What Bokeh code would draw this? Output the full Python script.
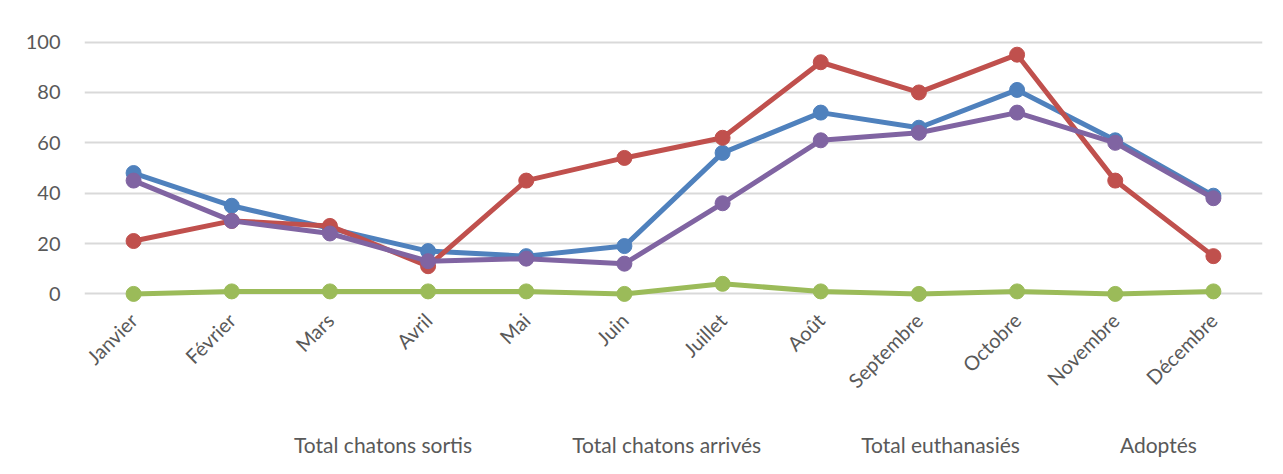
import math
from bokeh.plotting import figure
from bokeh.layouts import column
from bokeh.models import Range1d, Legend, LegendItem, FixedTicker
from bokeh.embed import file_html
from bokeh.resources import INLINE

months = ["Janvier", "Février", "Mars", "Avril", "Mai", "Juin", "Juillet",
          "Août", "Septembre", "Octobre", "Novembre", "Décembre"]
sortis = [48, 35, 26, 17, 15, 19, 56, 72, 66, 81, 61, 39]
arrives = [21, 29, 27, 11, 45, 54, 62, 92, 80, 95, 45, 15]
euthanasies = [0, 1, 1, 1, 1, 0, 4, 1, 0, 1, 0, 1]
adoptes = [45, 29, 24, 13, 14, 12, 36, 61, 64, 72, 60, 38]
y_ticks = [0, 20, 40, 60, 80, 100]

series = [
    ("Total chatons sortis", sortis, "#4F81BD"),
    ("Total chatons arrivés", arrives, "#C0504D"),
    ("Total euthanasiés", euthanasies, "#9BBB59"),
    ("Adoptés", adoptes, "#8064A2"),
]

FONT = "Lato"
TXT = "#595959"

p = figure(x_range=months, y_range=Range1d(-5, 105),
           width=1267, height=416,
           min_border_left=84, min_border_top=29, min_border_right=5,
           min_border_bottom=110,
           output_backend="svg", toolbar_location=None)

p.outline_line_color = None
p.xgrid.grid_line_color = None
p.ygrid.grid_line_color = "#D9D9D9"
p.ygrid.grid_line_width = 1.8
p.yaxis.ticker = FixedTicker(ticks=y_ticks)

for ax in (p.xaxis, p.yaxis):
    ax.axis_line_color = None
    ax.major_tick_line_color = None
    ax.minor_tick_line_color = None
    ax.major_tick_out = 0
    ax.major_tick_in = 0
    ax.major_label_text_font = FONT
    ax.major_label_text_color = TXT
    ax.major_label_text_font_size = "20px"
p.xaxis.major_label_orientation = math.pi / 4
p.xaxis.major_label_standoff = 10
p.yaxis.major_label_standoff = 24

for name, vals, color in series:
    p.line(months, vals, line_color=color, line_width=5)
    p.scatter(months, vals, size=15, fill_color=color, line_color=color)

# separate strip holding the legend
lg = figure(width=1267, height=56, x_range=Range1d(0, 1), y_range=Range1d(0, 1),
            min_border=0, x_axis_location=None, y_axis_location=None,
            output_backend="svg", toolbar_location=None)
lg.outline_line_color = None
lg.xgrid.visible = False
lg.ygrid.visible = False

items = []
for name, vals, color in series:
    r1 = lg.line(x=[], y=[], line_color=color, line_width=5)
    r2 = lg.scatter(x=[], y=[], size=15, fill_color=color, line_color=color)
    items.append(LegendItem(label=name, renderers=[r1, r2]))

legend = Legend(items=items, orientation="horizontal", location=(150, 9),
                glyph_width=57, glyph_height=38, label_standoff=3, spacing=40,
                padding=0, margin=0,
                border_line_color=None, background_fill_alpha=0,
                label_text_font=FONT, label_text_color=TXT,
                label_text_font_size="21px")
lg.add_layout(legend, "center")

layout = column(p, lg, spacing=0)
open("out.html", "w").write(file_html(layout, INLINE))
